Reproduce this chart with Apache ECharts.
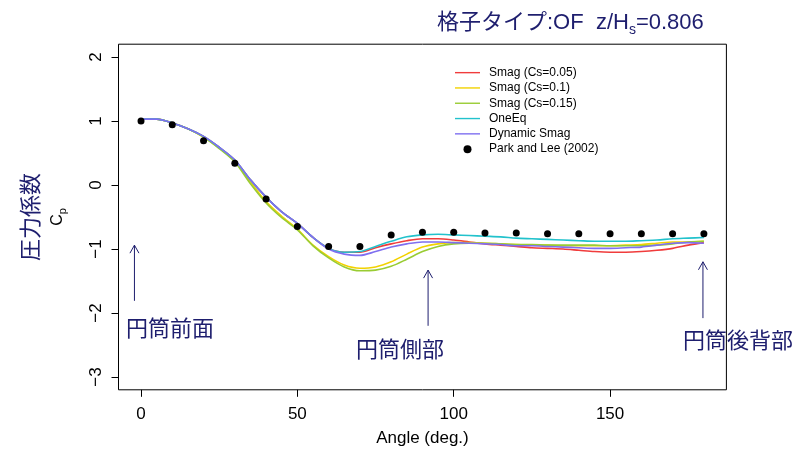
<!DOCTYPE html>
<html>
<head>
<meta charset="utf-8">
<script src="https://cdn.jsdelivr.net/npm/echarts@6/dist/echarts.min.js"></script>
<style>html,body{margin:0;padding:0;background:#fff}#c{width:796px;height:454px}</style>
</head>
<body>
<div id="c"></div>
<script>
const angles = [0,5,10,15,20,25,30,35,40,45,50,55,60,65,70,75,80,85,90,95,100,105,110,115,120,125,130,135,140,145,150,155,160,165,170,175,180];
const smag005 = [1.03,1.03,0.97,0.88,0.76,0.59,0.39,0.08,-0.19,-0.42,-0.60,-0.82,-0.99,-1.05,-1.05,-0.98,-0.92,-0.87,-0.84,-0.84,-0.86,-0.89,-0.92,-0.94,-0.96,-0.98,-0.99,-1.00,-1.02,-1.04,-1.05,-1.05,-1.04,-1.02,-0.99,-0.94,-0.90];
const smag01  = [1.03,1.03,0.97,0.88,0.75,0.58,0.37,0.05,-0.26,-0.49,-0.69,-0.94,-1.12,-1.25,-1.30,-1.28,-1.20,-1.08,-0.97,-0.92,-0.90,-0.90,-0.91,-0.92,-0.93,-0.94,-0.94,-0.95,-0.95,-0.95,-0.95,-0.94,-0.93,-0.91,-0.89,-0.89,-0.88];
const smag015 = [1.03,1.03,0.97,0.88,0.75,0.57,0.36,0.02,-0.28,-0.51,-0.70,-0.95,-1.14,-1.28,-1.34,-1.33,-1.27,-1.16,-1.04,-0.96,-0.92,-0.91,-0.91,-0.92,-0.93,-0.93,-0.94,-0.94,-0.94,-0.94,-0.95,-0.95,-0.95,-0.94,-0.92,-0.89,-0.88];
const oneEq   = [1.03,1.03,0.97,0.88,0.76,0.59,0.39,0.08,-0.19,-0.42,-0.60,-0.82,-0.99,-1.05,-1.04,-0.96,-0.88,-0.81,-0.78,-0.77,-0.78,-0.79,-0.80,-0.81,-0.83,-0.84,-0.85,-0.86,-0.87,-0.88,-0.88,-0.88,-0.87,-0.86,-0.84,-0.83,-0.82];
const dynSmag = [1.03,1.03,0.97,0.88,0.76,0.59,0.39,0.08,-0.19,-0.42,-0.60,-0.82,-1.00,-1.08,-1.10,-1.04,-0.97,-0.92,-0.89,-0.89,-0.90,-0.91,-0.92,-0.93,-0.95,-0.95,-0.96,-0.97,-0.98,-0.99,-0.99,-0.98,-0.97,-0.94,-0.91,-0.90,-0.91];
const expAngles = [0,10,20,30,40,50,60,70,80,90,100,110,120,130,140,150,160,170,180];
const parkLee  = [1.00,0.94,0.69,0.34,-0.22,-0.65,-0.96,-0.96,-0.78,-0.74,-0.74,-0.75,-0.75,-0.76,-0.76,-0.76,-0.76,-0.76,-0.76];
const seriesNames = ['Smag (Cs=0.05)','Smag (Cs=0.1)','Smag (Cs=0.15)','OneEq','Dynamic Smag','Park and Lee (2002)'];
const xTicks = [0,50,100,150];
const yTicks = [-3,-2,-1,0,1,2];
const arrowX = [-2.1, 91.8, 179.7];
const arrowTailY = [-1.81, -2.20, -2.08];
const arrowHeadY = [-0.94, -1.33, -1.20];
const annoLabels = ['円筒前面','円筒側部','円筒後背部'];
const annoLabelX = [9.3, 82.8, 190.9];
const annoLabelY = [-2.23, -2.56, -2.42];

const navy = '#1e1e6e';
const latin = '"Liberation Sans", Arial, "Noto Sans CJK JP", sans-serif';
const cjk = '"Noto Sans CJK JP", "Liberation Sans", sans-serif';
const colors = ['#f03c3c','#f2d200','#99cc33','#22c2cc','#7f6ff0'];
const sim = [smag005, smag01, smag015, oneEq, dynSmag];
const lineIcon = 'path://M0,3.3L25,3.3L25,4.7L0,4.7Z M0,0L0,0 M0,8L0,8';

const lineSeries = sim.map((arr, i) => ({
  name: seriesNames[i], type: 'line', symbol: 'none', smooth: 0.3,
  data: angles.map((a, j) => [a, arr[j]]),
  lineStyle: { color: colors[i], width: 1.6 }, itemStyle: { color: colors[i] },
  z: 2 + i
}));

const chart = echarts.init(document.getElementById('c'));
chart.setOption({
  animation: false,
  backgroundColor: '#fff',
  title: {
    left: 437, top: 9, padding: 0,
    text: '{a|格子タイプ:OF  z/H}{s|s}{a|=0.806}',
    textStyle: { rich: {
      a: { fontSize: 22, fontWeight: 'normal', fontFamily: latin, color: navy },
      s: { fontSize: 14, fontWeight: 'normal', fontFamily: latin, color: navy, padding: [14, 0, 0, 0] }
    } }
  },
  grid: { left: 118.5, top: 44.2, width: 607.9, height: 345.6, show: true, borderColor: '#000', borderWidth: 1, backgroundColor: 'transparent' },
  legend: {
    orient: 'vertical', left: 455, top: 65, padding: 0, itemWidth: 25, itemHeight: 8, itemGap: 0,
    data: seriesNames.map((n, i) => i < 5 ? { name: n, icon: lineIcon } : { name: n, icon: 'circle' }),
    textStyle: { fontSize: 12, fontFamily: latin, color: '#000', lineHeight: 15.3, padding: [0, 0, 0, 4] }
  },
  xAxis: {
    type: 'value', min: -7.2, max: 187.2,
    name: 'Angle (deg.)', nameLocation: 'middle', nameGap: 40,
    nameTextStyle: { fontSize: 17, fontFamily: latin, color: '#000' },
    axisLine: { show: false, onZero: false },
    axisTick: { show: true, length: 7, customValues: xTicks, lineStyle: { color: '#000' } },
    axisLabel: { customValues: xTicks, margin: 16, fontSize: 17, fontFamily: latin, color: '#000' },
    splitLine: { show: false }
  },
  yAxis: {
    type: 'value', min: -3.2, max: 2.2,
    name: '{a|圧力係数}\n{c|C}{p|p}', nameLocation: 'middle', nameRotate: 90, nameGap: 50,
    nameTextStyle: { rich: {
      a: { fontSize: 22, fontFamily: cjk, color: navy, lineHeight: 33, align: 'center' },
      c: { fontSize: 16, fontFamily: latin, color: '#000', lineHeight: 22 },
      p: { fontSize: 11, fontFamily: latin, color: '#000', lineHeight: 22, padding: [10, 0, 0, 0] }
    } },
    axisLine: { show: false, onZero: false },
    axisTick: { show: true, length: 7, customValues: yTicks, lineStyle: { color: '#000' } },
    axisLabel: { customValues: yTicks, rotate: 90, margin: 14, fontSize: 17, fontFamily: latin, color: '#000',
      formatter: v => String(v).replace('-', '\u2212') },
    splitLine: { show: false }
  },
  series: lineSeries.concat([
    {
      name: seriesNames[5], type: 'scatter', symbol: 'circle', symbolSize: 7,
      data: expAngles.map((a, j) => [a, parkLee[j]]),
      itemStyle: { color: '#000', opacity: 1 }, z: 10
    },
    {
      type: 'custom', clip: false, silent: true, z: 11,
      data: arrowX.map((x, j) => [x, arrowTailY[j], arrowHeadY[j]]),
      encode: { x: 0, y: [1, 2] },
      renderItem: (params, api) => {
        const x = api.value(0);
        const p0 = api.coord([x, api.value(1)]);
        const p1 = api.coord([x, api.value(2)]);
        const dx = p1[0] - p0[0], dy = p1[1] - p0[1];
        const L = Math.sqrt(dx * dx + dy * dy) || 1;
        const ux = dx / L, uy = dy / L, px = -uy, py = ux;
        const hl = 8, hw = 4.5;
        const bx = p1[0] - ux * hl, by = p1[1] - uy * hl;
        const st = { stroke: navy, lineWidth: 1, fill: null };
        return { type: 'group', children: [
          { type: 'line', shape: { x1: p0[0], y1: p0[1], x2: p1[0], y2: p1[1] }, style: st },
          { type: 'polyline', shape: { points: [[bx + px * hw, by + py * hw], [p1[0], p1[1]], [bx - px * hw, by - py * hw]] }, style: st }
        ] };
      }
    },
    {
      type: 'custom', clip: false, silent: true, z: 11,
      data: annoLabelX.map((x, j) => [x, annoLabelY[j], j]),
      encode: { x: 0, y: 1 },
      renderItem: (params, api) => {
        const p = api.coord([api.value(0), api.value(1)]);
        return { type: 'text', x: p[0], y: p[1], style: {
          text: annoLabels[api.value(2)], fill: navy, fontSize: 22, fontFamily: cjk,
          align: 'center', verticalAlign: 'middle' } };
      }
    }
  ])
});
</script>
</body>
</html>
